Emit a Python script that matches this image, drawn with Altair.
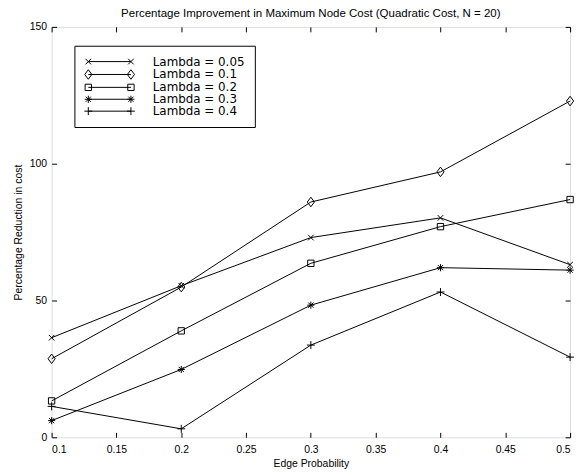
import altair as alt
import pandas as pd

# ---------------- data ----------------
edge_prob = [0.1, 0.2, 0.3, 0.4, 0.5]
series_labels = ["Lambda = 0.05", "Lambda = 0.1", "Lambda = 0.2", "Lambda = 0.3", "Lambda = 0.4"]
lam_005 = [36.4, 55.4, 73.0, 80.2, 63.1]
lam_01 = [28.7, 54.9, 86.0, 97.0, 122.9]
lam_02 = [13.3, 38.9, 63.6, 77.0, 86.9]
lam_03 = [6.1, 24.8, 48.3, 62.0, 61.1]
lam_04 = [11.3, 3.1, 33.7, 53.1, 29.3]
x_ticks = [0.1, 0.15, 0.2, 0.25, 0.3, 0.35, 0.4, 0.45, 0.5]
y_ticks = [0, 50, 100, 150]

series_values = [lam_005, lam_01, lam_02, lam_03, lam_04]
rows = []
for i, (lab, vals) in enumerate(zip(series_labels, series_values)):
    for xv, yv in zip(edge_prob, vals):
        rows.append({"p": xv, "v": yv, "series": lab, "order": i})
df = pd.DataFrame(rows)

# ---------------- marker geometry (style) ----------------
M_X = [[(-0.7, -0.7), (0.7, 0.7)], [(-0.7, 0.7), (0.7, -0.7)]]
M_DIAMOND = [[(0, -1.2), (0.9, 0), (0, 1.2), (-0.9, 0), (0, -1.2)]]
M_SQUARE = [[(-0.8, -0.8), (0.8, -0.8), (0.8, 0.8), (-0.8, 0.8), (-0.8, -0.8)]]
M_STAR = [[(-0.9, 0), (0.9, 0)], [(0, -0.9), (0, 0.9)],
          [(-0.65, -0.65), (0.65, 0.65)], [(-0.65, 0.65), (0.65, -0.65)]]
M_PLUS = [[(-1, 0), (1, 0)], [(0, -1), (0, 1)]]
markers = [M_X, M_DIAMOND, M_SQUARE, M_STAR, M_PLUS]


def fmt(v):
    return f"{v:.4f}".rstrip("0").rstrip(".")


def poly_path(polys, dx=0.0, k=1.0):
    out = []
    for pl in polys:
        pts = [(dx + x * k, y * k) for x, y in pl]
        out.append("M" + fmt(pts[0][0]) + "," + fmt(pts[0][1]) +
                   "".join("L" + fmt(x) + "," + fmt(y) for x, y in pts[1:]))
    return "".join(out)


plot_shapes = [poly_path(m) for m in markers]
LEG_SIZE = 100          # half-size unit = 5 px
k_leg = 4.0 / 5.0
x0, x1 = -0.4, 8.2      # legend line around symbol centre
legend_shapes = [f"M{fmt(x0)},0L{fmt(x1)},0" + poly_path(m, x0, k_leg) + poly_path(m, x1, k_leg)
                 for m in markers]

FONT = "Liberation Sans"
LEG_FONT = "DejaVu Sans"

x_scale = alt.Scale(domain=[0.1, 0.5], nice=False, zero=False)
y_scale = alt.Scale(domain=[0, 150], nice=False, zero=False)

base = alt.Chart(df)

lines = base.mark_line(color="black", strokeWidth=1).encode(
    x=alt.X("p:Q", scale=x_scale,
            axis=alt.Axis(orient="bottom", values=x_ticks, format="~g", ticks=False, tickSize=0,
                          domain=False, grid=False, labelPadding=7, labelFontSize=10.5,
                          labelFont=FONT, title="Edge Probability", titleFont=FONT,
                          titleFontSize=10.5, titleFontWeight="normal", titlePadding=4,
                          labelColor="black", titleColor="black")),
    y=alt.Y("v:Q", scale=y_scale,
            axis=alt.Axis(orient="left", values=y_ticks, format="d", ticks=False, tickSize=0,
                          domain=False, grid=False, labelPadding=5, labelFontSize=10.5,
                          labelFont=FONT, title="Percentage Reduction in cost", titleFont=FONT,
                          titleFontSize=10.5, titleFontWeight="normal", titlePadding=6,
                          labelColor="black", titleColor="black")),
    detail="series:N",
    order="p:Q",
)

points = base.mark_point(filled=False, color="black", strokeWidth=1, size=64, opacity=1).encode(
    x=alt.X("p:Q", scale=x_scale, axis=None),
    y=alt.Y("v:Q", scale=y_scale, axis=None),
    shape=alt.Shape("series:N", scale=alt.Scale(domain=series_labels, range=plot_shapes), legend=None),
)

legend_layer = base.transform_filter("false").mark_point(
    filled=False, color="black", strokeWidth=1, opacity=1
).encode(
    shape=alt.Shape("series:N", scale=alt.Scale(domain=series_labels, range=legend_shapes),
                    legend=alt.Legend(title=None, orient="none", legendX=23, legendY=19,
                                      strokeColor="black", fillColor="white", padding=10,
                                      labelFont=LEG_FONT, labelFontSize=12, labelColor="black",
                                      labelOffset=57, rowPadding=0, symbolSize=LEG_SIZE,
                                      symbolStrokeWidth=1, symbolStrokeColor="black",
                                      labelLimit=300)),
)

tick_common = dict(labels=False, domain=False, grid=False, ticks=True, tickSize=5,
                   tickColor="black", tickWidth=1, title=None, offset=-5)

ticks_a = base.mark_line(opacity=0).encode(
    x=alt.X("p:Q", scale=x_scale, axis=alt.Axis(orient="bottom", values=x_ticks, **tick_common)),
    y=alt.Y("v:Q", scale=y_scale, axis=alt.Axis(orient="left", values=y_ticks, **tick_common)),
    detail="series:N",
)
ticks_b = base.mark_line(opacity=0).encode(
    x=alt.X("p:Q", scale=x_scale, axis=alt.Axis(orient="top", values=x_ticks, **tick_common)),
    y=alt.Y("v:Q", scale=y_scale, axis=alt.Axis(orient="right", values=y_ticks, **tick_common)),
    detail="series:N",
)

chart = alt.layer(lines, ticks_a, ticks_b, points, legend_layer).resolve_axis(
    x="independent", y="independent"
).resolve_scale(shape="independent").properties(
    width=523,
    height=414,
    autosize=alt.AutoSizeParams(type="none"),
    padding={"left": 44, "top": 17, "right": 10, "bottom": 40},
    title=alt.TitleParams("Percentage Improvement in Maximum Node Cost (Quadratic Cost, N = 20)",
                          font=FONT, fontSize=11.6, fontWeight="normal", color="black",
                          anchor="middle", offset=2, frame="group"),
).configure_view(stroke="black", strokeWidth=1).configure(background="white")

chart.save("out.html", embed_options={"renderer": "svg", "actions": False})
